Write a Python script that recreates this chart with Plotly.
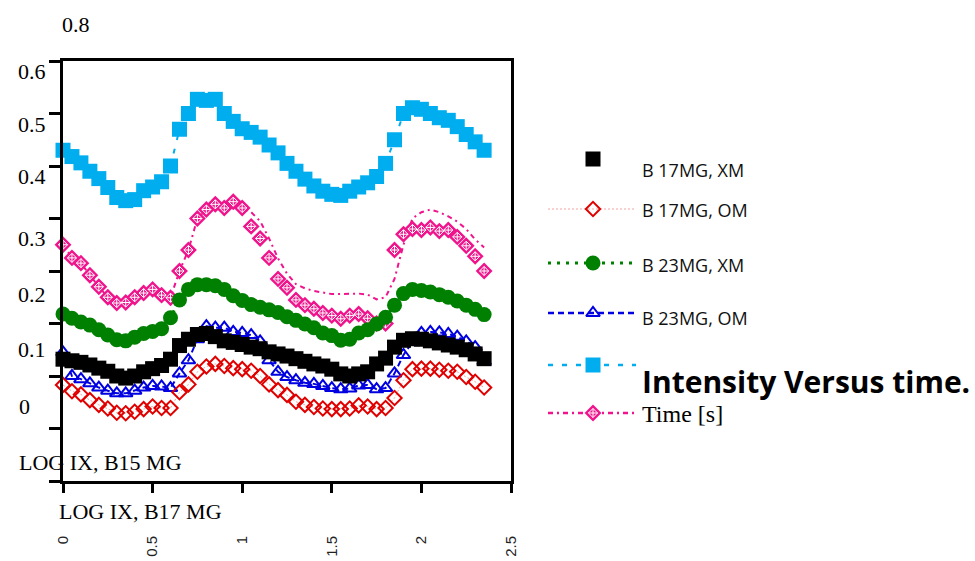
import plotly.graph_objects as go

W, H = 975, 561

# ---------------- data ----------------
X = [0.00, 0.05, 0.10, 0.15, 0.20, 0.25, 0.30, 0.35, 0.40, 0.45, 0.50, 0.55,
     0.60, 0.65, 0.70, 0.75, 0.80, 0.85, 0.90, 0.95, 1.00, 1.05, 1.10, 1.15,
     1.20, 1.25, 1.30, 1.35, 1.40, 1.45, 1.50, 1.55, 1.60, 1.65, 1.70, 1.75,
     1.80, 1.85, 1.90, 1.95, 2.00, 2.05, 2.10, 2.15, 2.20, 2.25, 2.30, 2.35]

B17_XM = [0.032, 0.029, 0.026, 0.021, 0.015, 0.009, 0.000, -0.004, 0.000, 0.008, 0.014, 0.020,
          0.032, 0.058, 0.070, 0.079, 0.081, 0.075, 0.067, 0.064, 0.060, 0.055, 0.052, 0.046,
          0.042, 0.038, 0.033, 0.028, 0.023, 0.019, 0.013, 0.004, 0.000, 0.004, 0.008, 0.023,
          0.034, 0.055, 0.068, 0.071, 0.070, 0.067, 0.063, 0.059, 0.055, 0.050, 0.042, 0.033]

B17_OM = [-0.017, -0.029, -0.035, -0.046, -0.055, -0.062, -0.070, -0.071, -0.068, -0.063, -0.058, -0.061,
          -0.061, -0.031, -0.016, 0.008, 0.018, 0.023, 0.019, 0.015, 0.013, 0.010, 0.000, -0.016,
          -0.027, -0.036, -0.049, -0.055, -0.059, -0.062, -0.063, -0.063, -0.062, -0.056, -0.058, -0.063,
          -0.061, -0.042, -0.008, 0.013, 0.014, 0.014, 0.012, 0.010, 0.008, -0.002, -0.011, -0.022]

B23_XM = [0.118, 0.110, 0.103, 0.097, 0.088, 0.078, 0.069, 0.067, 0.074, 0.081, 0.085, 0.090,
          0.111, 0.145, 0.165, 0.174, 0.174, 0.172, 0.165, 0.153, 0.144, 0.136, 0.131, 0.126,
          0.121, 0.113, 0.106, 0.099, 0.092, 0.082, 0.077, 0.068, 0.070, 0.082, 0.088, 0.099,
          0.112, 0.135, 0.157, 0.165, 0.163, 0.160, 0.155, 0.150, 0.143, 0.135, 0.127, 0.117]

B23_OM = [0.045, 0.000, -0.006, -0.014, -0.022, -0.028, -0.033, -0.033, -0.028, -0.022, -0.019, -0.020,
          -0.023, 0.005, 0.030, 0.070, 0.095, 0.092, 0.092, 0.084, 0.082, 0.078, 0.066, 0.030,
          0.008, -0.002, -0.008, -0.013, -0.015, -0.019, -0.023, -0.025, -0.024, -0.018, -0.017, -0.025,
          -0.023, 0.005, 0.040, 0.065, 0.082, 0.084, 0.083, 0.080, 0.075, 0.066, 0.055, 0.028]

INTENSITY = [0.430, 0.418, 0.406, 0.390, 0.376, 0.359, 0.340, 0.334, 0.336, 0.353, 0.360, 0.370,
             0.400, 0.470, 0.500, 0.527, 0.525, 0.527, 0.500, 0.485, 0.471, 0.464, 0.455, 0.440,
             0.425, 0.405, 0.390, 0.375, 0.362, 0.352, 0.346, 0.344, 0.352, 0.360, 0.368, 0.380,
             0.405, 0.450, 0.500, 0.511, 0.508, 0.500, 0.492, 0.487, 0.475, 0.460, 0.446, 0.430]

TIME_MARKERS = [0.250, 0.225, 0.215, 0.192, 0.170, 0.150, 0.139, 0.140, 0.150, 0.158, 0.165, 0.154,
                0.149, 0.200, 0.240, 0.300, 0.317, 0.327, 0.320, 0.332, 0.320, 0.285, 0.262, 0.225,
                0.185, 0.168, 0.145, 0.135, 0.128, 0.120, 0.115, 0.109, 0.115, 0.118, 0.110, 0.100,
                0.100, 0.240, 0.270, 0.280, 0.278, 0.283, 0.276, 0.278, 0.265, 0.248, 0.228, 0.200]

TIME_LINE = [0.250, 0.225, 0.215, 0.192, 0.170, 0.150, 0.139, 0.140, 0.150, 0.158, 0.165, 0.154,
             0.149, 0.200, 0.240, 0.300, 0.317, 0.327, 0.325, 0.330, 0.320, 0.312, 0.295, 0.262,
             0.224, 0.195, 0.175, 0.167, 0.162, 0.159, 0.156, 0.156, 0.156, 0.157, 0.155, 0.146,
             0.150, 0.185, 0.250, 0.300, 0.312, 0.317, 0.312, 0.304, 0.294, 0.280, 0.260, 0.245]

X_TICKS = [0, 0.5, 1, 1.5, 2, 2.5]
X_TICK_TEXT = ["0", "0.5", "1", "1.5", "2", "2.5"]
Y_TICKS = [-0.2, -0.1, 0, 0.1, 0.2, 0.3, 0.4, 0.5, 0.6]
Y_LABELS = ["0.8", "0.6", "0.5", "0.4", "0.3", "0.2", "0.1", "0", "LOG IX, B15 MG"]
X_TITLE = "LOG IX, B17 MG"
LEGEND_NAMES = ["B 17MG, XM", "B 17MG, OM", "B 23MG, XM", "B 23MG, OM",
                "Intensity Versus time.", "Time [s]"]

# ---------------- styles ----------------
BLACK = "#000000"
RED = "#E00000"
RED_LINE = "#F4A3A3"
GREEN = "#008000"
BLUE = "#0000E0"
CYAN = "#00AEEF"
PINK = "#F0148C"
PINK_DASH = "5px,4px,2px,4px"
GREEN_DASH = "3px,6px"
BLUE_DASH = "6px,4px"
CYAN_DASH = "5px,9px"
RED_DASH = "2px,2px"

SERIF = "Liberation Serif"
SANS = "Open Sans"

TIME_MARK = dict(symbol="diamond", size=13, color=PINK, line=dict(width=0))
TIME_INNER = dict(symbol="diamond-cross-open", size=7, color="white",
                  line=dict(color="white", width=1))

styles = [
    dict(y=INTENSITY, mode="lines+markers",
         line=dict(color=CYAN, width=2, dash=CYAN_DASH),
         marker=dict(symbol="square", size=15, color=CYAN)),
    dict(y=TIME_LINE, mode="lines",
         line=dict(color=PINK, width=2, dash=PINK_DASH), marker=None),
    dict(y=TIME_MARKERS, mode="markers", line=None, marker=TIME_MARK),
    dict(y=TIME_MARKERS, mode="markers", line=None, marker=TIME_INNER),
    dict(y=B23_OM, mode="lines+markers",
         line=dict(color=BLUE, width=2, dash=BLUE_DASH),
         marker=dict(symbol="triangle-up-open", size=12, color=BLUE,
                     line=dict(color=BLUE, width=2))),
    dict(y=B17_OM, mode="lines+markers",
         line=dict(color=RED_LINE, width=1, dash=RED_DASH),
         marker=dict(symbol="diamond-open", size=11, color=RED,
                     line=dict(color=RED, width=2))),
    dict(y=B17_XM, mode="markers", line=None,
         marker=dict(symbol="square", size=15, color=BLACK)),
    dict(y=B23_XM, mode="lines+markers",
         line=dict(color=GREEN, width=3, dash=GREEN_DASH),
         marker=dict(symbol="circle", size=15, color=GREEN)),
]

fig = go.Figure()
for s in styles:
    kw = dict(x=X, y=s["y"], mode=s["mode"], showlegend=False,
              xaxis="x", yaxis="y", cliponaxis=False)
    if s["line"] is not None:
        kw["line"] = s["line"]
    if s["marker"] is not None:
        kw["marker"] = s["marker"]
    fig.add_trace(go.Scatter(**kw))

# ---------------- hand-drawn legend (pixel overlay axis) ----------------
LEG_X0, LEG_XM, LEG_X1 = 548, 593, 636
LEG_ROWS = [159, 209, 263, 313, 365, 413]
leg_styles = [
    (None, [dict(symbol="square", size=15, color=BLACK)]),
    (dict(color=RED_LINE, width=1, dash=RED_DASH),
     [dict(symbol="diamond-open", size=11, color=RED, line=dict(color=RED, width=2))]),
    (dict(color=GREEN, width=3, dash=GREEN_DASH), [dict(symbol="circle", size=15, color=GREEN)]),
    (dict(color=BLUE, width=2.5, dash=BLUE_DASH),
     [dict(symbol="triangle-up-open", size=12, color=BLUE, line=dict(color=BLUE, width=2))]),
    (dict(color=CYAN, width=2.5, dash=CYAN_DASH), [dict(symbol="square", size=15, color=CYAN)]),
    (dict(color=PINK, width=2.5, dash=PINK_DASH), [TIME_MARK, TIME_INNER]),
]
for ry, (ln, mks) in zip(LEG_ROWS, leg_styles):
    if ln is not None:
        fig.add_trace(go.Scatter(x=[LEG_X0, LEG_X1], y=[ry, ry], mode="lines", line=ln,
                                 showlegend=False, xaxis="x2", yaxis="y2", hoverinfo="skip"))
    for mk in mks:
        fig.add_trace(go.Scatter(x=[LEG_XM], y=[ry], mode="markers", marker=mk,
                                 showlegend=False, xaxis="x2", yaxis="y2", hoverinfo="skip"))


def px(x):
    return x / W


def py(y):
    return 1 - y / H


annotations = []
leg_text_pos = [(640, 170), (640, 210), (640, 265), (640, 318), (640, 381), (640, 414)]
leg_fonts = [dict(family=SANS, size=18, color="#111"),
             dict(family=SANS, size=18, color="#111"),
             dict(family=SANS, size=18, color="#111"),
             dict(family=SANS, size=18, color="#111"),
             dict(family=SANS, size=30, color="#000", weight="bold"),
             dict(family=SERIF, size=24, color="#000")]
for txt, (tx, ty), f in zip(LEGEND_NAMES, leg_text_pos, leg_fonts):
    annotations.append(dict(text=txt, x=px(tx), y=py(ty), xref="paper", yref="paper",
                            xanchor="left", yanchor="middle", showarrow=False, font=f))

y_label_pos = [(60, 25), (16, 71), (16, 124), (16, 177), (16, 238), (16, 294),
               (16, 349), (17, 406), (17, 462)]
for txt, (tx, ty) in zip(Y_LABELS, y_label_pos):
    annotations.append(dict(text=txt, x=px(tx), y=py(ty), xref="paper", yref="paper",
                            xanchor="left", yanchor="middle", showarrow=False,
                            font=dict(family=SERIF, size=22, color="#000")))

annotations.append(dict(text=X_TITLE, x=px(57), y=py(512), xref="paper", yref="paper",
                        xanchor="left", yanchor="middle", showarrow=False,
                        font=dict(family=SERIF, size=22, color="#000")))

fig.update_layout(
    width=W, height=H, autosize=False,
    margin=dict(l=0, r=0, t=0, b=0, autoexpand=False),
    paper_bgcolor="white", plot_bgcolor="rgba(0,0,0,0)",
    showlegend=False,
    xaxis=dict(domain=[63 / W, 511 / W], range=[0, 2.5], tickvals=X_TICKS, ticktext=X_TICK_TEXT,
               ticks="outside", ticklen=9, tickwidth=3, tickcolor="#000",
               showline=True, linewidth=3, linecolor="#000", mirror=True,
               showgrid=False, zeroline=False, tickangle=-90, automargin=False,
               ticklabelstandoff=37,
               tickfont=dict(family="Liberation Sans", size=15, color="#222")),
    yaxis=dict(domain=[(H - 481) / H, (H - 61) / H], range=[-0.2, 0.6], tickvals=Y_TICKS,
               showticklabels=False, ticks="outside", ticklen=11, tickwidth=3, tickcolor="#000",
               showline=True, linewidth=3, linecolor="#000", mirror=True, automargin=False,
               showgrid=False, zeroline=False),
    xaxis2=dict(domain=[0, 1], range=[0, W], visible=False, anchor="y2", fixedrange=True,
                automargin=False),
    yaxis2=dict(domain=[0, 1], range=[H, 0], visible=False, anchor="x2", fixedrange=True,
                automargin=False),
    annotations=annotations,
)

fig.write_html("out.html", config={"displayModeBar": False, "staticPlot": True},
               post_script="document.body.style.margin='0';document.body.style.overflow='hidden';")
